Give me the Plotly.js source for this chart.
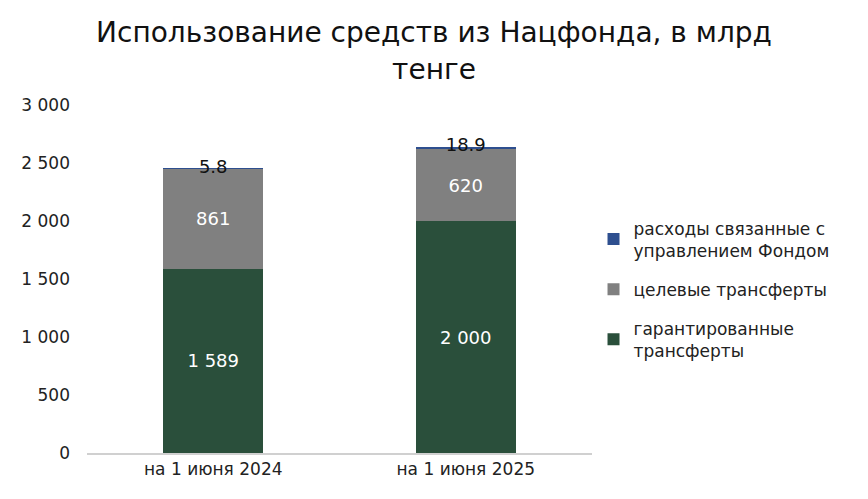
<!DOCTYPE html>
<html>
<head>
<meta charset="utf-8">
<script src="https://cdn.plot.ly/plotly-3.0.1.min.js"></script>
<style>
  html, body { margin: 0; padding: 0; background: #fff; }
  #chart { width: 868px; height: 499px; }
</style>
</head>
<body>
<div id="chart"></div>
<script>
  // Данные графика
  var categories = ['на 1 июня 2024', 'на 1 июня 2025'];
  var guaranteed = [1589, 2000];
  var targeted = [861, 620];
  var management = [5.8, 18.9];
  var seriesNames = ['гарантированные<br>трансферты', 'целевые трансферты', 'расходы связанные с<br>управлением Фондом'];

  function fmt(v) {
    return String(v).replace(/\B(?=(\d{3})+(?!\d))/g, ' ');
  }

  var totals = categories.map(function (c, i) {
    return guaranteed[i] + targeted[i] + management[i];
  });

  var font = 'DejaVu Sans, Noto Sans, sans-serif';

  var data = [
    {
      type: 'bar', name: seriesNames[0], x: categories, y: guaranteed,
      legendgroup: 'g1', legendrank: 3,
      marker: { color: '#2a4f3b' },
      text: guaranteed.map(fmt), textposition: 'inside', insidetextanchor: 'middle',
      textfont: { color: '#ffffff', size: 18, family: font },
      width: 0.395, hoverinfo: 'y'
    },
    {
      type: 'bar', name: seriesNames[1], x: categories, y: targeted,
      legendgroup: 'g2', legendrank: 2,
      marker: { color: '#808080' },
      text: targeted.map(fmt), textposition: 'inside', insidetextanchor: 'middle',
      textfont: { color: '#ffffff', size: 18, family: font },
      width: 0.395, hoverinfo: 'y'
    },
    {
      type: 'bar', name: seriesNames[2], x: categories, y: management,
      legendgroup: 'g3', legendrank: 1,
      marker: { color: '#2e4f8f' },
      textposition: 'none',
      width: 0.395, hoverinfo: 'y'
    },
    {
      // подписи малых значений на вершине столбцов
      type: 'scatter', mode: 'text', x: categories, y: totals,
      text: management.map(String), textposition: 'middle center',
      textfont: { color: '#111111', size: 18, family: font },
      showlegend: false, hoverinfo: 'skip', cliponaxis: false
    }
  ];

  var layout = {
    width: 868, height: 499,
    margin: { l: 86.5, r: 275.5, t: 105, b: 46 },
    paper_bgcolor: '#ffffff', plot_bgcolor: '#ffffff',
    barmode: 'stack',
    separators: '. ',
    font: { family: font, color: '#222222', size: 16 },
    title: {
      text: 'Использование средств из Нацфонда, в млрд<br>тенге',
      font: { size: 28, color: '#111111', family: font },
      x: 0.5, xanchor: 'center',
      yref: 'container', y: 0.915, yanchor: 'middle'
    },
    xaxis: {
      type: 'category', range: [-0.5, 1.5],
      showline: true, linecolor: '#d0d0d0', linewidth: 1.5,
      ticks: '', tickfont: { size: 17, color: '#222222' },
      showgrid: false, zeroline: false
    },
    yaxis: {
      range: [0, 3000], dtick: 500, tick0: 0,
      separatethousands: true,
      showgrid: false, zeroline: false, showline: false,
      ticks: '', ticklabelstandoff: 16,
      tickfont: { size: 17, color: '#222222' }
    },
    legend: {
      x: 1.003, xanchor: 'left', y: 0.47, yanchor: 'middle',
      traceorder: 'grouped',
      font: { size: 17, color: '#222222' },
      itemwidth: 30, tracegroupgap: 14
    },
    showlegend: true
  };

  Plotly.newPlot('chart', data, layout, { staticPlot: true });
</script>
</body>
</html>
